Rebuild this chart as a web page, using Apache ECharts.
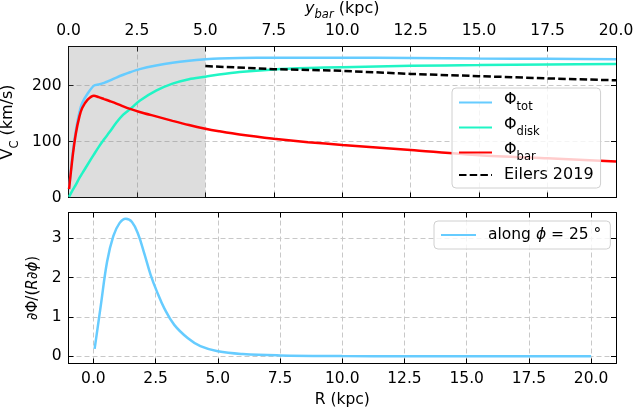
<!DOCTYPE html>
<html>
<head>
<meta charset="utf-8">
<script src="https://cdn.jsdelivr.net/npm/echarts@6/dist/echarts.min.js"></script>
<style>html,body{margin:0;padding:0;background:#fff}#c{width:635px;height:411px}</style>
</head>
<body>
<div id="c"></div>
<script>
// ---- data ----
const R_TOP = [0.02, 0.15, 0.27, 0.4, 0.5, 0.7, 0.93, 1.1, 1.3, 1.5, 1.75, 2.0, 2.25, 2.6, 3.2, 3.8, 4.4, 5.0, 5.5, 6.25, 7.5, 8.75, 10, 12.5, 15, 17.5, 20];
const V_TOT = [15, 78, 120, 153, 169, 186, 200, 202, 205, 209, 214.5, 219.5, 224, 229.5, 236, 241, 244.5, 247, 248.5, 249.5, 250, 250, 250, 249.5, 248.5, 248, 247];
const V_DISK = [1, 13, 23, 35, 43, 59, 77, 90, 104, 117, 134, 148, 158, 173, 191, 203.5, 211.5, 216, 220, 224.5, 229, 231.5, 233, 235.5, 236.7, 238, 238.5];
const V_BAR = [15, 73, 115, 145, 160, 175, 182, 179.5, 176, 172.5, 168, 163, 158.5, 153, 145, 137, 129.5, 123, 118.5, 112.5, 105, 99, 94, 85, 75.5, 70, 64.5];
const R_EIL = [5, 7.5, 10, 12.5, 15, 17.5, 20];
const V_EIL = [235, 229.5, 226.5, 221, 217, 213, 209.5];
const R_BOT = [0.05, 0.3, 0.55, 0.8, 1.05, 1.3, 1.55, 1.8, 2.05, 2.3, 2.55, 2.85, 3.25, 3.8, 4.3, 5.0, 6.0, 7.5, 10, 12.5, 15, 17.5, 20];
const F_BOT = [0.19, 1.3, 2.4, 3.05, 3.38, 3.49, 3.41, 3.1, 2.6, 2.07, 1.65, 1.22, 0.8, 0.46, 0.26, 0.13, 0.06, 0.025, 0.01, 0.005, 0.003, 0.002, 0.001];
const X_TICKS = [0, 2.5, 5, 7.5, 10, 12.5, 15, 17.5, 20];
const Y_TOP_TICKS = [0, 100, 200];
const Y_BOT_TICKS = [0, 1, 2, 3];
const SHADE = [0, 5];

const zip = (a, b) => a.map((v, i) => [v, b[i]]);
const FONT = 'DejaVu Sans';
const C_TOT = '#66ccff', C_DISK = '#20f5c5', C_BAR = '#ff0000';
const splitStyle = {show: true, lineStyle: {color: '#c8c8c8', width: 1, type: [5, 3]}};
const tick = (vals) => ({show: true, inside: true, length: 5, customValues: vals, lineStyle: {color: '#000', width: 1}});
const axLine = {show: true, onZero: false, lineStyle: {color: '#000', width: 1}};
const lab = (vals, fmt, margin) => ({show: true, customValues: vals, formatter: fmt, margin: margin, color: '#000', fontFamily: FONT, fontSize: 15.5});
const noLab = {show: false};
const f1 = v => Number(v).toFixed(1);
const f0 = v => String(Math.round(v));

const richSub = {
  n: {fontFamily: FONT, fontSize: 16, color: '#000', padding: [0, 0, 5, 0], verticalAlign: 'bottom'},
  e: {fontFamily: FONT, fontSize: 16, color: '#000', padding: [2.5, 0, 2.5, 0], verticalAlign: 'bottom'},
  ni: {fontFamily: FONT, fontSize: 16, color: '#000', fontStyle: 'italic', padding: [0, 0, 5, 0], verticalAlign: 'bottom'},
  s: {fontFamily: FONT, fontSize: 11.5, color: '#000', verticalAlign: 'bottom'},
  si: {fontFamily: FONT, fontSize: 11.5, color: '#000', fontStyle: 'italic', verticalAlign: 'bottom'},
  t: {fontFamily: FONT, fontSize: 15.5, color: '#000'},
  ti: {fontFamily: FONT, fontSize: 15.5, color: '#000', fontStyle: 'italic'},
  y: {fontFamily: FONT, fontSize: 15, color: '#000'},
  yi: {fontFamily: FONT, fontSize: 15, color: '#000', fontStyle: 'italic'}
};

const option = {
  animation: false,
  backgroundColor: '#fff',
  grid: [
    {left: 68.5, top: 46.5, width: 547.5, height: 151, containLabel: false, outerBoundsMode: 'none'},
    {left: 68.5, top: 212.5, width: 547.5, height: 151, containLabel: false, outerBoundsMode: 'none'}
  ],
  xAxis: [
    {type: 'value', gridIndex: 0, position: 'bottom', min: 0, max: 20, axisLine: axLine, axisTick: tick(X_TICKS), axisLabel: noLab, splitLine: splitStyle},
    {type: 'value', gridIndex: 0, position: 'top', min: 0, max: 20, axisLine: axLine, axisTick: tick(X_TICKS), axisLabel: lab(X_TICKS, f1, 8), splitLine: {show: false},
     name: '{ni|y}{si|bar}{n| (kpc)}', nameLocation: 'middle', nameGap: 25, nameTextStyle: {rich: richSub}},
    {type: 'value', gridIndex: 1, position: 'bottom', min: -1, max: 21, axisLine: axLine, axisTick: tick(X_TICKS), axisLabel: lab(X_TICKS, f1, 7), splitLine: splitStyle,
     name: 'R (kpc)', nameLocation: 'middle', nameGap: 28, nameTextStyle: {fontFamily: FONT, fontSize: 15.5, color: '#000'}},
    {type: 'value', gridIndex: 1, position: 'top', min: -1, max: 21, axisLine: axLine, axisTick: tick(X_TICKS), axisLabel: noLab, splitLine: {show: false}}
  ],
  yAxis: [
    {type: 'value', gridIndex: 0, position: 'left', min: 0, max: 270, axisLine: axLine, axisTick: tick(Y_TOP_TICKS), axisLabel: lab(Y_TOP_TICKS, f0, 7), splitLine: splitStyle,
     name: '{n|V}{s|C}{n| (km/s)}', nameLocation: 'middle', nameRotate: 90, nameGap: 42, nameTextStyle: {rich: richSub}},
    {type: 'value', gridIndex: 0, position: 'right', min: 0, max: 270, axisLine: axLine, axisTick: tick(Y_TOP_TICKS), axisLabel: noLab, splitLine: {show: false}},
    {type: 'value', gridIndex: 1, position: 'left', min: -0.18, max: 3.65, axisLine: axLine, axisTick: tick(Y_BOT_TICKS), axisLabel: lab(Y_BOT_TICKS, f0, 7), splitLine: splitStyle,
     name: '{y|∂Φ/(}{yi|R}{y|∂}{yi|ϕ}{y|)}', nameLocation: 'middle', nameRotate: 90, nameGap: 26, nameTextStyle: {rich: richSub}},
    {type: 'value', gridIndex: 1, position: 'right', min: -0.18, max: 3.65, axisLine: axLine, axisTick: tick(Y_BOT_TICKS), axisLabel: noLab, splitLine: {show: false}}
  ],
  legend: [
    {
      data: ['Φ_tot', 'Φ_disk', 'Φ_bar', 'Eilers 2019'],
      orient: 'vertical', left: 452, top: 88, z: 20,
      padding: [4, 7, 5, 6], itemGap: 4, itemWidth: 33, itemHeight: 14,
      backgroundColor: 'rgba(255,255,255,0.8)', borderColor: '#d0d0d0', borderWidth: 1, borderRadius: 4,
      itemStyle: {opacity: 0},
      formatter: name => {
        if (name.indexOf('_') >= 0) { const p = name.split('_'); return '{n|' + p[0] + '}{s|' + p[1] + '}'; }
        return '{e|' + name + '}';
      },
      textStyle: {rich: richSub, padding: [0, 0, 0, 7]}
    },
    {
      data: ['along ϕ = 25°'],
      orient: 'vertical', left: 434, top: 221, z: 20,
      padding: [6, 9, 6, 6], itemWidth: 35, itemHeight: 14,
      backgroundColor: 'rgba(255,255,255,0.8)', borderColor: '#d0d0d0', borderWidth: 1, borderRadius: 4,
      itemStyle: {opacity: 0},
      formatter: () => '{t|along }{ti|ϕ}{t| = 25 °}',
      textStyle: {rich: richSub, padding: [0, 0, 0, 7]}
    }
  ],
  series: [
    {type: 'line', name: 'shade', xAxisIndex: 0, yAxisIndex: 0, data: [], z: 1, silent: true,
     markArea: {silent: true, itemStyle: {color: 'rgba(128,128,128,0.27)'}, data: [[{xAxis: SHADE[0]}, {xAxis: SHADE[1]}]]}},
    {type: 'line', name: 'Φ_tot', xAxisIndex: 0, yAxisIndex: 0, data: zip(R_TOP, V_TOT), symbol: 'none', smooth: 0.25, lineStyle: {color: C_TOT, width: 2.5}, itemStyle: {color: C_TOT}, z: 3},
    {type: 'line', name: 'Φ_disk', xAxisIndex: 0, yAxisIndex: 0, data: zip(R_TOP, V_DISK), symbol: 'none', smooth: 0.3, lineStyle: {color: C_DISK, width: 2.5}, itemStyle: {color: C_DISK}, z: 4},
    {type: 'line', name: 'Φ_bar', xAxisIndex: 0, yAxisIndex: 0, data: zip(R_TOP, V_BAR), symbol: 'none', smooth: 0.25, lineStyle: {color: C_BAR, width: 2.5}, itemStyle: {color: C_BAR}, z: 5},
    {type: 'line', name: 'Eilers 2019', xAxisIndex: 0, yAxisIndex: 0, data: zip(R_EIL, V_EIL), symbol: 'none', lineStyle: {color: '#000', width: 2.5, type: [7.5, 3.2]}, itemStyle: {color: '#000'}, z: 6},
    {type: 'line', name: 'along ϕ = 25°', xAxisIndex: 2, yAxisIndex: 2, data: zip(R_BOT, F_BOT), symbol: 'none', smooth: 0.4, lineStyle: {color: C_TOT, width: 2.5}, itemStyle: {color: C_TOT}, z: 3}
  ]
};
const chart = echarts.init(document.getElementById('c'), null, {renderer: 'canvas'});
chart.setOption(option);
</script>
</body>
</html>
